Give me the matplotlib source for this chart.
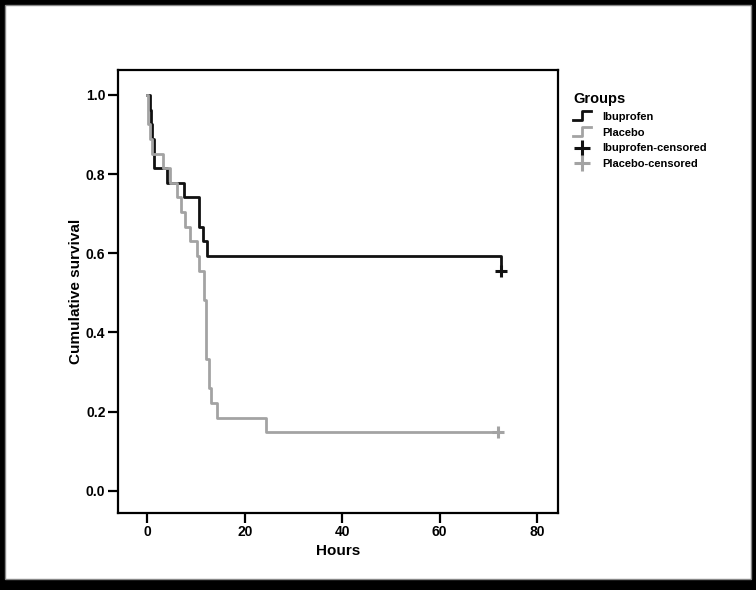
import matplotlib
matplotlib.use("Agg")
import matplotlib.pyplot as plt
from matplotlib.patches import Rectangle
from matplotlib.lines import Line2D
from matplotlib.legend_handler import HandlerBase

plt.rcParams['font.family'] = ['Liberation Sans Narrow', 'Liberation Sans', 'DejaVu Sans']

# Kaplan-Meier steps (time in hours, cumulative survival)
ibu_t = [0, 0.5, 0.8, 1.0, 1.3, 4.0, 7.5, 10.7, 11.5, 12.3, 72.5]
ibu_s = [1.0, 0.963, 0.926, 0.889, 0.815, 0.778, 0.741, 0.667, 0.630, 0.593, 0.556]
ibu_cens_t = [72.5]
ibu_cens_s = [0.556]

pla_t = [0, 0.2, 0.6, 1.0, 3.2, 4.7, 6.1, 7.0, 7.8, 8.7, 10.3, 10.6, 11.6, 12.1,
         12.6, 13.1, 14.4, 24.4, 71.9]
pla_s = [1.0, 0.926, 0.889, 0.852, 0.815, 0.778, 0.741, 0.704, 0.667, 0.630,
         0.593, 0.556, 0.481, 0.333, 0.259, 0.222, 0.185, 0.148, 0.148]
pla_cens_t = [71.9]
pla_cens_s = [0.148]

groups = ['Ibuprofen', 'Placebo', 'Ibuprofen-censored', 'Placebo-censored']
black = '#111111'
grey = '#a3a3a3'

fig = plt.figure(figsize=(7.56, 5.90), dpi=100)
fig.patch.set_facecolor('black')
# white page inside the black frame
fig.patches.append(Rectangle((5/756, 11/590), 746/756, 574/590, transform=fig.transFigure,
                             facecolor='white', edgecolor='#888888', lw=1, zorder=-10))

ax = fig.add_axes([118/756, 77/590, 440/756, 443/590])
ax.set_facecolor('white')

ax.step(ibu_t, ibu_s, where='post', color=black, lw=2.0)
ax.step(pla_t, pla_s, where='post', color=grey, lw=2.0)
ax.plot(ibu_cens_t, ibu_cens_s, '+', color=black, ms=9, mew=2.2)
ax.plot(pla_cens_t, pla_cens_s, '+', color=grey, ms=9, mew=2.2)

ax.set_xlim(-6, 84.3)
ax.set_ylim(-0.056, 1.063)
ax.set_xticks([0, 20, 40, 60, 80])
ax.set_yticks([0.0, 0.2, 0.4, 0.6, 0.8, 1.0])
ax.set_yticklabels(['0.0', '0.2', '0.4', '0.6', '0.8', '1.0'])
for s in ax.spines.values():
    s.set_linewidth(1.6)
ax.tick_params(direction='out', length=7, width=1.6, labelsize=10, pad=2)
for lab in ax.get_xticklabels() + ax.get_yticklabels():
    lab.set_fontweight('bold')
ax.set_xlabel('Hours', fontsize=11, fontweight='bold', labelpad=3)
ax.set_ylabel('Cumulative survival', fontsize=11, fontweight='bold', labelpad=2)


class StepHandler(HandlerBase):
    def create_artists(self, legend, orig_handle, xdescent, ydescent, width, height, fontsize, trans):
        w = width * 0.75
        x0 = -xdescent
        xs = [x0, x0 + w * 0.5, x0 + w * 0.5, x0 + w]
        ys = [-ydescent + height * 0.05, -ydescent + height * 0.05,
              -ydescent + height * 0.95, -ydescent + height * 0.95]
        ln = Line2D(xs, ys, color=orig_handle.get_color(), lw=2.0, transform=trans)
        return [ln]


class PlusHandler(HandlerBase):
    def create_artists(self, legend, orig_handle, xdescent, ydescent, width, height, fontsize, trans):
        w = width * 0.75
        xs = [-xdescent + w * 0.5]
        ys = [-ydescent + height * 0.5]
        ln = Line2D(xs, ys, marker='+', ls='none', color=orig_handle.get_color(),
                    ms=12, mew=2.2, transform=trans)
        return [ln]


h1 = Line2D([], [], color=black)
h2 = Line2D([], [], color=grey)
h3 = Line2D([], [], color=black, marker='+')
h4 = Line2D([], [], color=grey, marker='+')
leg = fig.legend([h1, h2, h3, h4], groups, loc='upper left',
                 bbox_to_anchor=(563/756, 1 - 82/590), frameon=False,
                 title='Groups', handler_map={h1: StepHandler(), h2: StepHandler(),
                                               h3: PlusHandler(), h4: PlusHandler()},
                 prop={'size': 8, 'weight': 'bold'}, handlelength=2.2, handleheight=1.0,
                 labelspacing=0.45, handletextpad=0.4)
leg.get_title().set_fontweight('bold')
leg.get_title().set_fontsize(10.5)
leg._legend_box.align = 'left'

fig.savefig('out.png', dpi=100, facecolor=fig.get_facecolor())
